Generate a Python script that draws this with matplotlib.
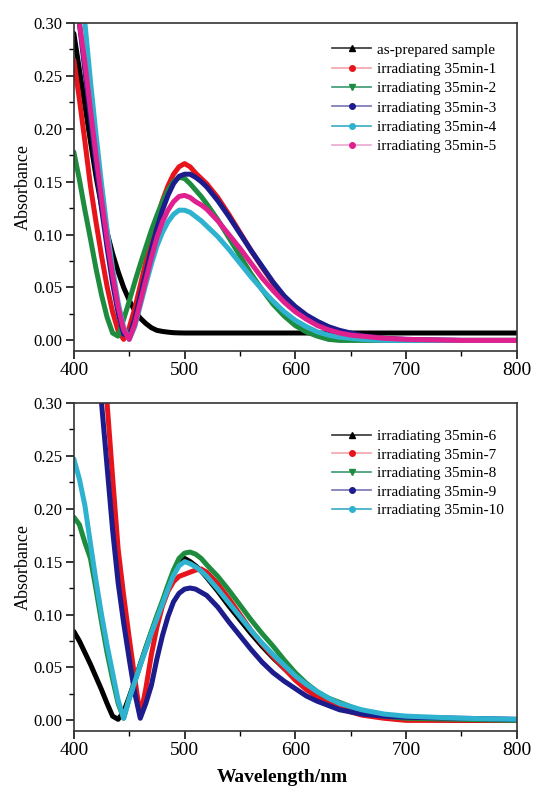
import numpy as np
import matplotlib
matplotlib.use('Agg')
import matplotlib.pyplot as plt
from matplotlib.lines import Line2D
from matplotlib.ticker import MultipleLocator, FormatStrFormatter

plt.rcParams['font.family'] = ['Liberation Serif', 'DejaVu Serif']

# wavelength grid (nm) shared by all curves
wl = [400, 405, 410, 415, 420, 425, 430, 435, 440, 445, 450, 455, 460, 465, 470,
      475, 480, 485, 490, 495, 500, 505, 510, 515, 520, 530, 540, 550, 560, 570,
      580, 590, 600, 610, 620, 630, 640, 650, 660, 680, 700, 750, 800]
nan = np.nan

# ---- top panel ----
top_labels = ['as-prepared sample', 'irradiating 35min-1', 'irradiating 35min-2',
              'irradiating 35min-3', 'irradiating 35min-4', 'irradiating 35min-5']
as_prepared = [0.290, 0.256, 0.222, 0.188, 0.155, 0.127, 0.102, 0.082, 0.065, 0.050, 0.038,
               0.028, 0.021, 0.016, 0.012, 0.0095, 0.0085, 0.0078, 0.0073, 0.0071, 0.007,
               0.007, 0.007, 0.007, 0.007, 0.007, 0.007, 0.007, 0.007, 0.007,
               0.007, 0.007, 0.007, 0.007, 0.007, 0.007, 0.007, 0.007, 0.007,
               0.007, 0.007, 0.007, 0.007]
irr_1 = [0.265, 0.228, 0.188, 0.146, 0.112, 0.080, 0.051, 0.027, 0.009, 0.001, 0.012,
         0.030, 0.052, 0.074, 0.095, 0.115, 0.132, 0.146, 0.157, 0.164, 0.167, 0.164,
         0.158, 0.153, 0.148, 0.135, 0.119, 0.102, 0.085, 0.069, 0.054, 0.041, 0.030,
         0.022, 0.016, 0.011, 0.008, 0.005, 0.003, 0.001, 0.0, 0.0, 0.0]
irr_2 = [0.178, 0.152, 0.123, 0.096, 0.068, 0.043, 0.022, 0.007, 0.004, 0.020, 0.037,
         0.055, 0.072, 0.088, 0.104, 0.118, 0.131, 0.142, 0.150, 0.154, 0.153, 0.148,
         0.142, 0.136, 0.129, 0.114, 0.097, 0.080, 0.063, 0.048, 0.034, 0.023, 0.014,
         0.008, 0.004, 0.001, 0.0, 0.0, 0.0, 0.0, 0.0, 0.0, 0.0]
irr_3 = [nan, 0.300, 0.255, 0.210, 0.166, 0.125, 0.088, 0.054, 0.026, 0.006, 0.004,
         0.020, 0.042, 0.064, 0.086, 0.106, 0.123, 0.137, 0.148, 0.155, 0.157, 0.157,
         0.154, 0.150, 0.145, 0.132, 0.117, 0.101, 0.085, 0.070, 0.055, 0.042, 0.032,
         0.024, 0.018, 0.013, 0.0095, 0.007, 0.0045, 0.002, 0.001, 0.0, 0.0]
irr_4 = [nan, nan, 0.300, 0.245, 0.195, 0.148, 0.105, 0.068, 0.036, 0.012, 0.001,
         0.013, 0.033, 0.053, 0.072, 0.089, 0.102, 0.112, 0.119, 0.123, 0.123, 0.121,
         0.117, 0.113, 0.108, 0.098, 0.086, 0.073, 0.060, 0.048, 0.037, 0.027, 0.019,
         0.013, 0.008, 0.005, 0.003, 0.002, 0.001, 0.0, 0.0, 0.0, 0.0]
irr_5 = [nan, 0.300, 0.262, 0.218, 0.175, 0.134, 0.096, 0.062, 0.032, 0.010, 0.001,
         0.015, 0.036, 0.057, 0.078, 0.097, 0.112, 0.123, 0.131, 0.136, 0.137, 0.135,
         0.131, 0.128, 0.124, 0.113, 0.100, 0.087, 0.073, 0.059, 0.047, 0.036, 0.027,
         0.020, 0.014, 0.010, 0.007, 0.005, 0.004, 0.002, 0.001, 0.0, 0.0]

# ---- bottom panel ----
bot_labels = ['irradiating 35min-6', 'irradiating 35min-7', 'irradiating 35min-8',
              'irradiating 35min-9', 'irradiating 35min-10']
irr_6 = [0.084, 0.075, 0.064, 0.053, 0.041, 0.029, 0.016, 0.004, 0.001, 0.008, 0.022,
         0.037, 0.053, 0.068, 0.083, 0.097, 0.111, 0.125, 0.139, 0.150, 0.153, 0.150,
         0.146, 0.141, 0.135, 0.122, 0.108, 0.095, 0.082, 0.070, 0.059, 0.049, 0.040,
         0.031, 0.024, 0.018, 0.014, 0.010, 0.007, 0.003, 0.001, 0.0, 0.0]
irr_7 = [nan, nan, nan, nan, nan, nan, 0.300, 0.230, 0.162, 0.118, 0.078,
         0.040, 0.004, 0.030, 0.062, 0.088, 0.108, 0.122, 0.131, 0.136, 0.138, 0.140,
         0.142, 0.143, 0.140, 0.129, 0.115, 0.100, 0.085, 0.072, 0.060, 0.049, 0.038,
         0.029, 0.022, 0.016, 0.012, 0.008, 0.005, 0.002, 0.0, 0.0, 0.0]
irr_8 = [0.192, 0.185, 0.168, 0.153, 0.124, 0.093, 0.064, 0.039, 0.016, 0.002, 0.021,
         0.037, 0.053, 0.069, 0.084, 0.099, 0.113, 0.128, 0.142, 0.153, 0.158, 0.159,
         0.157, 0.153, 0.147, 0.136, 0.123, 0.109, 0.095, 0.082, 0.070, 0.057, 0.045,
         0.035, 0.027, 0.021, 0.017, 0.013, 0.009, 0.004, 0.002, 0.001, 0.0]
irr_9 = [nan, nan, nan, nan, nan, 0.300, 0.240, 0.180, 0.130, 0.092, 0.058,
         0.026, 0.002, 0.016, 0.033, 0.058, 0.080, 0.098, 0.112, 0.120, 0.124, 0.125,
         0.124, 0.121, 0.118, 0.107, 0.093, 0.080, 0.067, 0.055, 0.045, 0.037, 0.030,
         0.023, 0.018, 0.014, 0.010, 0.008, 0.006, 0.004, 0.003, 0.002, 0.001]
irr_10 = [0.247, 0.228, 0.203, 0.167, 0.132, 0.100, 0.071, 0.045, 0.019, 0.002, 0.020,
          0.036, 0.052, 0.067, 0.082, 0.096, 0.110, 0.124, 0.137, 0.146, 0.150, 0.148,
          0.145, 0.141, 0.136, 0.124, 0.111, 0.098, 0.085, 0.073, 0.062, 0.052, 0.042,
          0.034, 0.027, 0.021, 0.016, 0.013, 0.010, 0.006, 0.004, 0.002, 0.001]

top_series = [as_prepared, irr_1, irr_2, irr_3, irr_4, irr_5]
bot_series = [irr_6, irr_7, irr_8, irr_9, irr_10]

# styling
top_colors = ['#000000', '#e8141c', '#1e8c3e', '#1c1c8c', '#2eb2d0', '#e0208e']
top_hcolors = ['#333333', '#f4a4ac', '#3a9a70', '#7474b4', '#3aaac4', '#eaa8d0']
top_markers = ['^', 'o', 'v', 'o', 'o', 'o']
bot_colors = ['#000000', '#e8141c', '#1e8c3e', '#1c1c8c', '#2eb2d0']
bot_hcolors = ['#333333', '#f4a4ac', '#3a9a70', '#7474b4', '#3aaac4']
bot_markers = ['^', 'o', 'v', 'o', 'o']

fig = plt.figure(figsize=(5.35, 7.87), dpi=100)
ax1 = fig.add_axes([0.138, 0.554, 0.828, 0.417])
ax2 = fig.add_axes([0.138, 0.0712, 0.828, 0.417])


def style_axes(ax):
    ax.set_xlim(400, 800)
    ax.set_ylim(-0.01, 0.30)
    ax.xaxis.set_major_locator(MultipleLocator(100))
    ax.xaxis.set_minor_locator(MultipleLocator(50))
    ax.yaxis.set_major_locator(MultipleLocator(0.05))
    ax.yaxis.set_minor_locator(MultipleLocator(0.025))
    ax.yaxis.set_major_formatter(FormatStrFormatter('%.2f'))
    ax.tick_params(which='major', direction='out', length=6, width=1.1, pad=2)
    ax.tick_params(which='minor', direction='out', length=3.5, width=1.0)
    ax.tick_params(axis='x', labelsize=14)
    ax.tick_params(axis='y', labelsize=12)
    for s in ax.spines.values():
        s.set_linewidth(1.2)
        s.set_color('#333333')
    ax.set_ylabel('Absorbance', fontsize=13, labelpad=1)


def draw_panel(ax, series, labels, colors, hcolors, markers, anchor, spacing):
    for y, c in zip(series, colors):
        ax.plot(wl, y, color=c, lw=3.6, solid_capstyle='round')
    handles = [Line2D([0], [0], color=hc, lw=1.2, marker=m, markersize=4,
                      markerfacecolor=c, markeredgecolor=c)
               for c, hc, m in zip(colors, hcolors, markers)]
    ax.legend(handles, labels, loc='upper left', bbox_to_anchor=anchor,
              frameon=False, fontsize=11, handlelength=2.6, handletextpad=0.4,
              labelspacing=spacing, borderpad=0, borderaxespad=0)


style_axes(ax1)
style_axes(ax2)
draw_panel(ax1, top_series, top_labels, top_colors, top_hcolors, top_markers,
           (0.582, 0.939), 0.37)
draw_panel(ax2, bot_series, bot_labels, bot_colors, bot_hcolors, bot_markers,
           (0.582, 0.918), 0.31)

ax2.set_xlabel('Wavelength/nm', fontsize=14, fontweight='bold')
ax2.xaxis.set_label_coords(0.47, -0.116)

fig.savefig('out.png', dpi=100)
